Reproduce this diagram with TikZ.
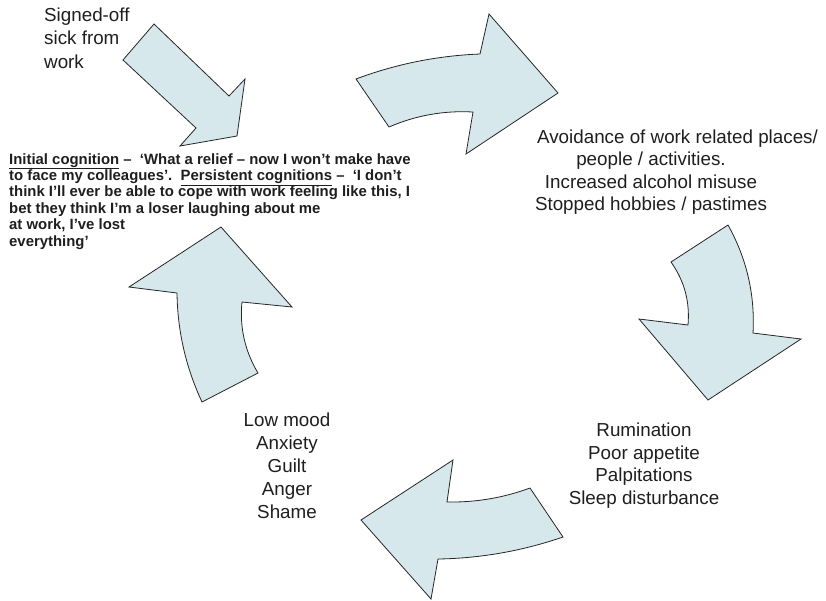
\documentclass[tikz,border=0pt]{standalone}
\usepackage{fontspec}
\setmainfont{Liberation Sans}
\definecolor{arrowfill}{RGB}{214,232,236}
\definecolor{txt}{RGB}{30,30,30}
\tikzset{
  bigarrow/.style={fill=arrowfill, draw=black!85, line width=0.8pt, line join=miter},
  plain/.style={inner sep=0pt, font=\fontsize{18.8}{22.7}\selectfont, text=txt, align=center},
  boldtxt/.style={inner sep=0pt, font=\fontsize{14.9}{16.4}\selectfont\bfseries, text=txt, align=left}
}
\begin{document}
\begin{tikzpicture}[x=1pt,y=-1pt]
\useasboundingbox (0,0) rectangle (826,600);

% straight arrow (signed-off)
\draw[bigarrow] (154,24) -- (229,96) -- (245,79) -- (237,136) -- (180,146) -- (196,128) -- (123,60) -- cycle;

% top curved arrow
\draw[bigarrow] (356,79) .. controls (396,64) and (437.4,55.7) .. (480,54)
  -- (489,14) -- (558,93) -- (466,154) -- (473,112)
  .. controls (443.8,110.4) and (415.8,115.4) .. (389,127) -- cycle;

% right curved arrow
\draw[bigarrow] (671,262) -- (728,225)
  .. controls (746.7,258.6) and (755.1,294.6) .. (753,333)
  -- (801,339) -- (708,400) -- (639,319) -- (688,325)
  .. controls (690,301.9) and (684.4,280.9) .. (671,262) -- cycle;

% bottom curved arrow
\draw[bigarrow] (530,488) .. controls (503.2,497.9) and (475.6,502.5) .. (447,502)
  -- (453,460) -- (361,520) -- (431,599) -- (438,559)
  .. controls (480.9,558.3) and (522.5,550.9) .. (563,537) -- cycle;

% left curved arrow
\draw[bigarrow] (202,402) .. controls (185.9,367.5) and (177.5,331.1) .. (177,293)
  -- (129,287) -- (221,227) -- (292,307) -- (242,302)
  .. controls (239.5,327.5) and (244.9,351.1) .. (258,373) -- cycle;

% texts (base anchor = baseline of the last line)
\node[plain, anchor=base west, align=left, font=\fontsize{18.8}{23.5}\selectfont] (signed) at (44,68)
  {Signed-off\\sick from\\work};

\node[boldtxt, anchor=base west] (cog) at (9,246)
  {\underline{Initial cognition} –\ \ ‘What a relief – now I won’t make have\\
   to face my colleagues’.\ \ \underline{Persistent cognitions} –\ \ ‘I don’t\\
   think I’ll ever be able to cope with work feeling like this, I\\
   bet they think I’m a loser laughing about me\\
   at work, I’ve lost\\
   everything’};

\node[plain, anchor=base, font=\fontsize{18.8}{22.3}\selectfont] (avoid) at (651,210.5)
  {\hspace*{53pt}Avoidance of work related places/\\people / activities.\hspace*{12pt}\\Increased alcohol misuse\\Stopped hobbies / pastimes};

\node[plain, anchor=base] (phys) at (644,504.5)
  {Rumination\\Poor appetite\\Palpitations\\Sleep disturbance};

\node[plain, anchor=base, font=\fontsize{18.8}{23}\selectfont] (emo) at (287,518.5)
  {Low mood\\Anxiety\\Guilt\\Anger\\Shame};
\end{tikzpicture}
\end{document}
